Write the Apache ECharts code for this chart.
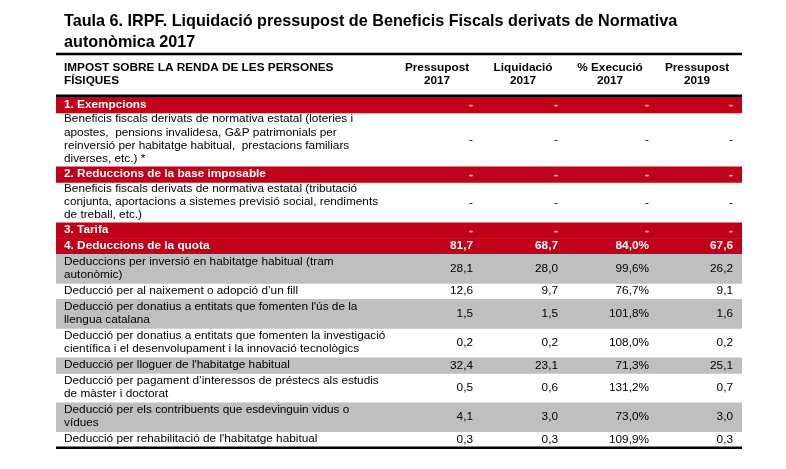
<!DOCTYPE html>
<html><head><meta charset="utf-8">
<script src="https://cdn.jsdelivr.net/npm/echarts@6/dist/echarts.min.js"></script>
<style>html,body{margin:0;padding:0;background:#fff}#c{width:786px;height:469px}</style>
</head><body><div id="c"></div>
<script>
// ---------- data ----------
const titleText = 'Taula 6. IRPF. Liquidació pressupost de Beneficis Fiscals derivats de Normativa\nautonòmica 2017';
const rowHeader = 'IMPOST SOBRE LA RENDA DE LES PERSONES\nFÍSIQUES';
const columnHeaders = ['Pressupost\n2017', 'Liquidació\n2017', '% Execució\n2017', 'Pressupost\n2019'];
const categories = [
  '1. Exempcions',
  'Beneficis fiscals derivats de normativa estatal (loteries i\napostes,  pensions invalidesa, G&P patrimonials per\nreinversió per habitatge habitual,  prestacions familiars\ndiverses, etc.) *',
  '2. Reduccions de la base imposable',
  'Beneficis fiscals derivats de normativa estatal (tributació\nconjunta, aportacions a sistemes previsió social, rendiments\nde treball, etc.)',
  '3. Tarifa',
  '4. Deduccions de la quota',
  'Deduccions per inversió en habitatge habitual (tram\nautonòmic)',
  'Deducció per al naixement o adopció d’un fill',
  'Deducció per donatius a entitats que fomenten l\'ús de la\nllengua catalana',
  'Deducció per donatius a entitats que fomenten la investigació\ncientífica i el desenvolupament i la innovació tecnològics',
  'Deducció per lloguer de l\'habitatge habitual',
  'Deducció per pagament d’interessos de préstecs als estudis\nde màster i doctorat',
  'Deducció per els contribuents que esdevinguin vidus o\nvídues',
  'Deducció per rehabilitació de l\'habitatge habitual'
];
const rowKinds = ['section','note','section','note','section','section',
  'deduction','deduction','deduction','deduction','deduction','deduction','deduction','deduction'];
const pressupost2017 = ['-','-','-','-','-',81.7,28.1,12.6,1.5,0.2,32.4,0.5,4.1,0.3];
const liquidacio2017 = ['-','-','-','-','-',68.7,28.0,9.7,1.5,0.2,23.1,0.6,3.0,0.3];
const execucio2017   = ['-','-','-','-','-',84.0,99.6,76.7,101.8,108.0,71.3,131.2,73.0,109.9];
const pressupost2019 = ['-','-','-','-','-',67.6,26.2,9.1,1.6,0.2,25.1,0.7,3.0,0.3];
const valueColumns = [pressupost2017, liquidacio2017, execucio2017, pressupost2019];
const percentColumn = [false, false, true, false];

// ---------- layout ----------
const FONT = '"Liberation Sans", Arial, Helvetica, sans-serif';
const FS = 11.8;
const RED = '#C1001A', GRAY = '#BFBFBF';
const TABLE_W = 686;
const LINE_H = 13.4;
const PAD = {section: 2.4, note: 0, deduction: 2.4};
const HEADER_H = 43;
const LABEL_X = 8;
const VALUE_RIGHT = [417, 502, 593, 677];
const HEAD_CENTER = [381, 467, 554, 641];

const rows = [];
let cursor = HEADER_H;
categories.forEach((label, i) => {
  const lines = label.split('\n').length;
  const h = lines * LINE_H + PAD[rowKinds[i]];
  rows.push({top: cursor, h: h});
  cursor += h;
});
const TOTAL = cursor;

// band shading of deduction rows (alternating)
let dCount = 0;
const rowFill = rowKinds.map(k => {
  if (k === 'section') return RED;
  if (k === 'deduction') { const f = (dCount % 2 === 0) ? GRAY : null; dCount++; return f; }
  return null;
});

function fmt(v, pct) {
  if (v === '-') return '-';
  return v.toFixed(1).replace('.', ',') + (pct ? '%' : '');
}

const seriesData = [[0, 0, HEADER_H, -1]].concat(rows.map((r, i) => [0, r.top, r.top + r.h, i]));

function renderItem(params, api) {
  const y0v = api.value(1), y1v = api.value(2), idx = api.value(3);
  const p0 = api.coord([0, y0v]);
  const p1 = api.coord([TABLE_W, y1v]);
  const x0 = p0[0], y0 = p0[1], x1 = p1[0], y1 = p1[1];
  const X = v => api.coord([v, 0])[0];
  const children = [];
  const cy = (y0 + y1) / 2;
  if (idx === -1) {
    children.push({type: 'rect', shape: {x: x0, y: y0 - 1.3, width: x1 - x0, height: 2.6}, style: {fill: '#000'}});
    children.push({type: 'rect', shape: {x: x0, y: y1 - 2.6, width: x1 - x0, height: 2.6}, style: {fill: '#000'}});
    children.push({type: 'text', style: {text: rowHeader, x: X(LABEL_X), y: cy - 1, align: 'left', verticalAlign: 'middle',
      fontFamily: FONT, fontSize: FS, fontWeight: 'bold', lineHeight: LINE_H, fill: '#000'}});
    columnHeaders.forEach((h, c) => {
      children.push({type: 'text', style: {text: h, x: X(HEAD_CENTER[c]), y: cy - 1, align: 'center', verticalAlign: 'middle',
        fontFamily: FONT, fontSize: FS, fontWeight: 'bold', lineHeight: LINE_H, fill: '#000'}});
    });
    return {type: 'group', children: children};
  }
  const kind = rowKinds[idx];
  const fill = rowFill[idx];
  if (fill) children.push({type: 'rect', shape: {x: x0, y: y0, width: x1 - x0, height: y1 - y0 + 0.5}, style: {fill: fill}});
  const isSec = kind === 'section';
  const color = isSec ? '#fff' : '#000';
  const weight = isSec ? 'bold' : 'normal';
  children.push({type: 'text', style: {text: categories[idx], x: X(LABEL_X), y: cy - 0.5, align: 'left', verticalAlign: 'middle',
    fontFamily: FONT, fontSize: FS, fontWeight: weight, lineHeight: LINE_H, fill: color}});
  valueColumns.forEach((col, c) => {
    children.push({type: 'text', style: {text: fmt(col[idx], percentColumn[c]), x: X(VALUE_RIGHT[c]), y: cy, align: 'right', verticalAlign: 'middle',
      fontFamily: FONT, fontSize: FS, fontWeight: weight, fill: color}});
  });
  if (idx === categories.length - 1) {
    children.push({type: 'rect', shape: {x: x0, y: y1 - 1, width: x1 - x0, height: 2.6}, style: {fill: '#000'}});
  }
  return {type: 'group', children: children};
}

const chart = echarts.init(document.getElementById('c'), null, {renderer: 'canvas'});
chart.setOption({
  animation: false,
  backgroundColor: '#fff',
  title: {
    text: titleText, left: 64, top: 11, padding: 0,
    textStyle: {fontFamily: FONT, fontSize: 16.2, fontWeight: 'bold', color: '#000', lineHeight: 21}
  },
  grid: {left: 56, top: 54, width: TABLE_W, height: TOTAL},
  xAxis: {type: 'value', min: 0, max: TABLE_W, show: false},
  yAxis: {type: 'value', min: 0, max: TOTAL, inverse: true, show: false},
  series: [{
    type: 'custom', renderItem: renderItem, clip: false,
    encode: {x: 0, y: [1, 2]},
    data: seriesData
  }]
});
</script></body></html>
